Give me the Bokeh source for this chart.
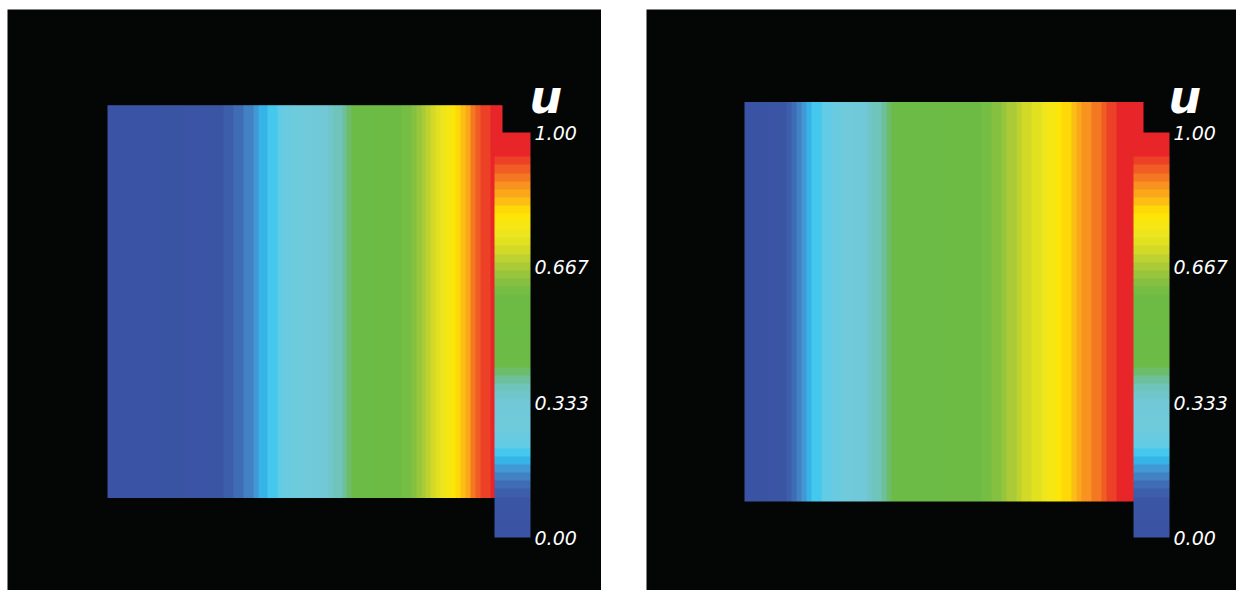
from bokeh.plotting import figure
from bokeh.layouts import row, column
from bokeh.models import LinearColorMapper, ColorBar, FixedTicker, Label, Spacer
from bokeh.embed import file_html
from bokeh.resources import INLINE
import numpy as np

# ---- data -------------------------------------------------------------
# stations across the unit square (x = k/80), and u sampled at each station
x_stations = [k / 80 for k in range(81)]

u_left = [0.000, 0.000, 0.000, 0.002, 0.004, 0.006, 0.008, 0.010, 0.012, 0.015,
          0.018, 0.021, 0.024, 0.027, 0.030, 0.035, 0.040, 0.045, 0.050, 0.055,
          0.060, 0.070, 0.080, 0.090, 0.100, 0.110, 0.120, 0.132, 0.145, 0.158,
          0.170, 0.183, 0.195, 0.205, 0.215, 0.228, 0.240, 0.252, 0.265, 0.275,
          0.285, 0.298, 0.310, 0.322, 0.335, 0.348, 0.360, 0.378, 0.395, 0.412,
          0.430, 0.450, 0.470, 0.490, 0.510, 0.525, 0.540, 0.555, 0.570, 0.585,
          0.600, 0.612, 0.625, 0.650, 0.670, 0.690, 0.712, 0.732, 0.750, 0.765,
          0.780, 0.800, 0.830, 0.855, 0.880, 0.900, 0.920, 0.940, 0.960, 0.980,
          1.000]

u_right = [0.000, 0.005, 0.010, 0.020, 0.030, 0.040, 0.050, 0.065, 0.080, 0.100,
           0.120, 0.142, 0.165, 0.183, 0.200, 0.210, 0.220, 0.232, 0.245, 0.258,
           0.270, 0.285, 0.300, 0.318, 0.335, 0.348, 0.360, 0.375, 0.390, 0.405,
           0.420, 0.430, 0.440, 0.450, 0.460, 0.470, 0.480, 0.490, 0.500, 0.510,
           0.520, 0.530, 0.540, 0.550, 0.560, 0.570, 0.580, 0.590, 0.600, 0.612,
           0.625, 0.637, 0.650, 0.662, 0.675, 0.687, 0.700, 0.712, 0.725, 0.737,
           0.750, 0.762, 0.775, 0.787, 0.800, 0.815, 0.830, 0.845, 0.860, 0.872,
           0.885, 0.897, 0.910, 0.922, 0.935, 0.947, 0.960, 0.972, 0.985, 0.992,
           1.000]

cbar_ticks = [0.0, 0.333, 0.667, 1.0]
cbar_tick_labels = ["0.00", "0.333", "0.667", "1.00"]
field_name = "u"

# ---- banded rainbow palette -------------------------------------------
anchors = [
    (0.00, "#3a53a4"), (0.09, "#3b55a5"), (0.12, "#3e63ae"), (0.15, "#4282c4"),
    (0.18, "#41a3dc"), (0.20, "#2cc4f2"), (0.22, "#5ecbe8"), (0.26, "#6ecbdd"),
    (0.34, "#72c8d6"), (0.38, "#6ec2b4"), (0.41, "#6dbc6a"), (0.43, "#6cbb46"),
    (0.60, "#6dbb45"), (0.64, "#8ec23e"), (0.68, "#b3cd35"), (0.72, "#dcdf22"),
    (0.76, "#f3e71b"), (0.80, "#ffe500"), (0.83, "#fcbe14"), (0.87, "#f7931e"),
    (0.90, "#f26a22"), (0.93, "#ec4126"), (0.95, "#e8262a"), (1.00, "#e8262a"),
]


def hex_rgb(h):
    return [int(h[i:i + 2], 16) for i in (1, 3, 5)]


def make_palette(n):
    pos = np.array([a[0] for a in anchors])
    rgb = np.array([hex_rgb(a[1]) for a in anchors], dtype=float)
    centers = (np.arange(n) + 0.5) / n
    out = []
    for c in centers:
        r, g, b = (np.interp(c, pos, rgb[:, k]) for k in range(3))
        out.append("#%02x%02x%02x" % (int(round(r)), int(round(g)), int(round(b))))
    return out


palette = make_palette(50)
BG = "#040505"
FONT = "DejaVu Sans"


def station_image(u_vals):
    """Half-cell raster: each station owns the half-cells on either side of it,
    so the cells stay centred on the stations and the square keeps its edges."""
    n = len(u_vals) - 1
    row_vals = [u_vals[(j + 1) // 2] for j in range(2 * n)]
    return np.tile(np.array(row_vals, dtype=float), (2, 1))


def panel(u_vals, width, height, field_px, field_py):
    """field_px/field_py: (start, end) pixel extent of the unit square in the frame
    (x measured from the left, y from the top)."""
    x0, x1 = field_px
    y0, y1 = field_py
    sx = (x1 - x0)
    sy = (y1 - y0)
    xr = (-x0 / sx, (width - x0) / sx)
    yr = (-(height - y1) / sy, 1 + y0 / sy)

    p = figure(width=width, height=height, x_range=xr, y_range=yr,
               output_backend="svg", toolbar_location=None,
               x_axis_type=None, y_axis_type=None, min_border=0)
    p.background_fill_color = BG
    p.border_fill_color = BG
    p.outline_line_color = None
    p.grid.visible = False

    mapper = LinearColorMapper(palette=palette, low=0.0, high=1.0)
    p.image(image=[station_image(u_vals)], x=x_stations[0], y=0,
            dw=x_stations[-1] - x_stations[0], dh=1, color_mapper=mapper)

    cb = ColorBar(color_mapper=mapper, location=(487, 53), width=36, height=405,
                  padding=0, margin=0, label_standoff=4,
                  ticker=FixedTicker(ticks=cbar_ticks),
                  major_label_overrides={t: s for t, s in zip(cbar_ticks, cbar_tick_labels)},
                  major_label_text_color="white",
                  major_label_text_font=FONT,
                  major_label_text_font_style="italic",
                  major_label_text_font_size="19px",
                  major_tick_line_color=None, minor_tick_line_color=None,
                  bar_line_color=None, border_line_color=None,
                  background_fill_alpha=0)
    p.add_layout(cb, "center")

    p.add_layout(Label(x=522, y=494, x_units="screen", y_units="screen",
                       text=field_name, text_color="white", text_font=FONT,
                       text_font_style="bold italic", text_font_size="46px",
                       text_baseline="alphabetic"))
    return p


p1 = panel(u_left, 594, 581, (100, 495), (95.7, 488.5))
p2 = panel(u_right, 590, 581, (98, 497), (92.5, 492))

layout = column(Spacer(height=9),
                row(Spacer(width=7), p1, Spacer(width=45), p2))

open("out.html", "w").write(file_html(layout, INLINE))
